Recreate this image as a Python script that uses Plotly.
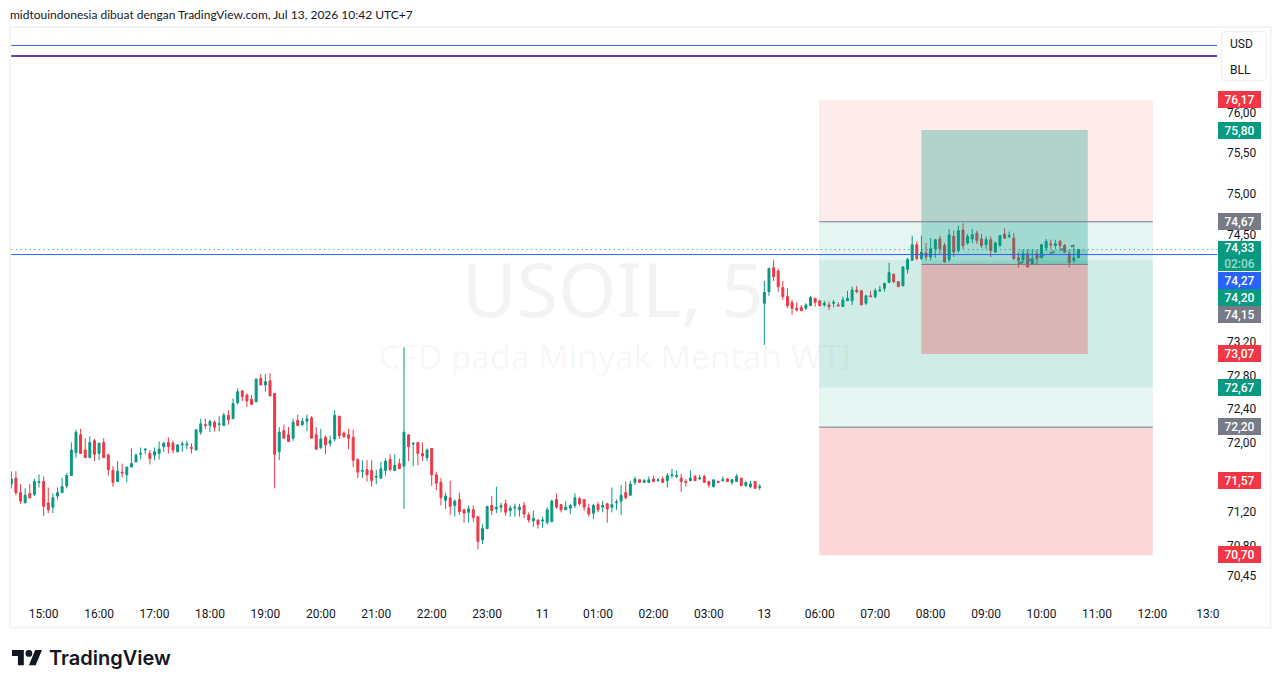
import math
import plotly.graph_objects as go

# USOIL 5-minute candles, oldest first
opens = [
    71.53,71.60,71.43,71.31,71.42,71.41,71.55,71.56,71.31,71.26,
    71.39,71.43,71.51,71.63,71.90,72.11,71.93,71.84,72.04,71.89,
    72.02,71.87,71.69,71.56,71.67,71.64,71.73,71.79,71.88,71.93,
    71.89,71.87,71.89,71.97,72.02,72.01,71.91,71.99,71.99,71.96,
    71.93,72.14,72.23,72.22,72.26,72.23,72.22,72.34,72.30,72.49,
    72.63,72.58,72.53,72.50,72.78,72.70,72.75,72.60,71.91,72.16,
    72.11,72.07,72.28,72.23,72.27,72.31,72.11,71.96,72.08,72.01,
    72.06,72.33,72.13,72.11,72.08,71.82,71.68,71.70,71.69,71.61,
    71.60,71.69,71.82,71.69,71.77,71.74,72.11,72.00,72.02,71.89,
    71.84,71.95,71.64,71.55,71.34,71.37,71.28,71.35,71.23,71.20,
    71.23,71.15,70.88,71.01,71.28,71.24,71.26,71.30,71.22,71.25,
    71.23,71.28,71.17,71.10,71.11,71.10,71.08,71.09,71.35,71.29,
    71.23,71.25,71.28,71.36,71.35,71.25,71.19,71.29,71.26,71.30,
    71.26,71.31,71.33,71.43,71.40,71.55,71.58,71.55,71.55,71.59,
    71.57,71.59,71.57,71.63,71.62,71.60,71.56,71.57,71.62,71.59,
    71.62,71.56,71.50,71.56,71.57,71.59,71.55,71.56,71.60,71.51,
    71.50,71.56,71.49,73.68,73.82,74.11,74.07,73.87,73.76,73.69,
    73.62,73.63,73.62,73.65,73.74,73.71,73.66,73.66,73.68,73.66,
    73.64,73.71,73.71,73.84,73.83,73.68,73.77,73.76,73.83,73.86,
    73.93,74.03,73.94,73.89,74.09,74.20,74.39,74.22,74.29,74.24,
    74.34,74.46,74.38,74.21,74.49,74.32,74.57,74.41,74.46,74.53,
    74.46,74.39,74.45,74.30,74.38,74.52,74.49,74.47,74.23,74.21,
    74.28,74.15,74.28,74.23,74.35,74.40,74.38,74.43,74.38,74.28,74.20,74.23,
]
highs = [
    71.68,71.68,71.53,71.48,71.53,71.59,71.64,71.62,71.49,71.42,
    71.49,71.60,71.66,72.02,72.17,72.18,72.07,72.09,72.06,72.02,
    72.07,71.89,71.74,71.80,71.77,71.73,71.95,71.89,71.96,71.95,
    71.93,71.96,72.03,72.03,72.08,72.04,72.00,72.03,72.04,72.01,
    72.17,72.30,72.30,72.29,72.28,72.33,72.37,72.40,72.54,72.66,
    72.64,72.60,72.58,72.78,72.83,72.83,72.84,72.60,72.20,72.23,
    72.20,72.30,72.35,72.31,72.35,72.33,72.20,72.18,72.10,72.10,
    72.40,72.33,72.15,72.18,72.17,71.83,71.81,71.81,71.81,71.70,
    71.79,71.83,71.88,71.88,71.83,73.15,72.11,72.02,72.02,72.02,
    71.95,71.95,71.67,71.60,71.43,71.57,71.35,71.43,71.24,71.28,
    71.28,71.15,71.06,71.27,71.39,71.50,71.31,71.35,71.28,71.30,
    71.30,71.32,71.20,71.22,71.12,71.15,71.26,71.35,71.42,71.29,
    71.33,71.30,71.42,71.38,71.35,71.30,71.30,71.32,71.33,71.31,
    71.49,71.35,71.52,71.56,71.57,71.62,71.59,71.59,71.62,71.63,
    71.60,71.62,71.66,71.71,71.69,71.65,71.59,71.69,71.64,71.64,
    71.64,71.57,71.58,71.57,71.62,71.60,71.59,71.65,71.60,71.56,
    71.57,71.56,71.53,73.95,74.11,74.20,74.10,73.95,73.86,73.72,
    73.69,73.66,73.68,73.77,73.74,73.71,73.71,73.70,73.72,73.69,
    73.76,73.83,73.88,73.89,73.84,73.78,73.83,73.86,73.89,73.93,
    74.17,74.04,73.95,74.12,74.23,74.50,74.43,74.50,74.41,74.47,
    74.46,74.50,74.41,74.58,74.56,74.62,74.65,74.52,74.58,74.56,
    74.52,74.49,74.49,74.43,74.51,74.59,74.55,74.53,74.29,74.33,
    74.33,74.33,74.33,74.40,74.46,74.45,74.45,74.45,74.40,74.32,74.39,74.34,
]
lows = [
    71.48,71.40,71.30,71.31,71.36,71.39,71.49,71.16,71.19,71.19,
    71.35,71.43,71.48,71.63,71.84,71.89,71.84,71.84,71.80,71.81,
    71.84,71.63,71.50,71.56,71.61,71.55,71.73,71.79,71.82,71.88,
    71.76,71.81,71.82,71.91,71.89,71.89,71.90,71.91,71.94,71.89,
    71.93,72.11,72.18,72.14,72.15,72.15,72.22,72.23,72.30,72.47,
    72.51,72.44,72.46,72.50,72.70,72.62,72.57,71.48,71.81,72.07,
    72.03,72.04,72.22,72.21,72.15,72.07,71.93,71.94,71.88,71.97,
    72.03,72.06,72.07,71.94,71.73,71.60,71.60,71.56,71.50,71.53,
    71.59,71.63,71.68,71.68,71.71,71.24,71.80,71.74,71.75,71.80,
    71.80,71.51,71.46,71.28,71.24,71.17,71.15,71.17,71.08,71.08,
    71.09,70.77,70.83,71.01,71.17,71.19,71.20,71.16,71.15,71.15,
    71.15,71.13,71.08,71.03,71.01,71.02,71.06,71.09,71.24,71.20,
    71.23,71.18,71.25,71.28,71.22,71.15,71.12,71.20,71.20,71.08,
    71.20,71.23,71.17,71.35,71.39,71.52,71.55,71.55,71.55,71.56,
    71.56,71.55,71.49,71.60,71.60,71.44,71.50,71.56,71.57,71.58,
    71.55,71.49,71.49,71.55,71.56,71.56,71.52,71.56,71.51,71.50,
    71.48,71.48,71.46,73.18,73.77,73.95,73.82,73.72,73.62,73.54,
    73.58,73.59,73.60,73.65,73.64,73.65,73.64,73.60,73.63,73.64,
    73.64,73.71,73.66,73.80,73.66,73.66,73.76,73.74,73.82,73.82,
    73.93,73.92,73.88,73.89,74.04,74.20,74.20,74.20,74.20,74.20,
    74.23,74.27,74.17,74.18,74.24,74.29,74.34,74.39,74.41,74.40,
    74.35,74.34,74.24,74.29,74.36,74.46,74.47,74.20,74.11,74.18,
    74.11,74.15,74.15,74.23,74.32,74.34,74.34,74.32,74.29,74.11,74.17,74.23,
]
closes = [
    71.59,71.43,71.33,71.40,71.37,71.56,71.56,71.27,71.23,71.37,
    71.43,71.50,71.63,71.93,72.14,71.89,71.84,72.02,71.88,72.01,
    71.84,71.70,71.55,71.68,71.66,71.73,71.77,71.87,71.89,71.94,
    71.83,71.91,71.94,72.01,71.97,71.93,71.99,72.00,72.00,71.95,
    72.17,72.24,72.22,72.27,72.20,72.24,72.34,72.29,72.48,72.62,
    72.56,72.51,72.47,72.77,72.70,72.74,72.57,71.88,72.14,72.07,
    72.03,72.26,72.22,72.27,72.30,72.07,71.94,72.06,71.99,72.04,
    72.34,72.10,72.09,72.07,71.81,71.67,71.69,71.64,71.57,71.62,
    71.71,71.80,71.70,71.75,71.71,72.14,71.97,72.01,71.89,71.86,
    71.93,71.64,71.54,71.37,71.39,71.27,71.33,71.21,71.19,71.24,
    71.14,70.86,71.01,71.27,71.22,71.26,71.28,71.20,71.25,71.26,
    71.26,71.18,71.11,71.13,71.06,71.11,71.23,71.33,71.26,71.23,
    71.26,71.28,71.37,71.30,71.26,71.18,71.28,71.23,71.28,71.24,
    71.29,71.32,71.40,71.37,71.53,71.59,71.55,71.57,71.58,71.56,
    71.58,71.55,71.63,71.64,71.63,71.56,71.55,71.60,71.57,71.60,
    71.55,71.52,71.58,71.55,71.58,71.56,71.58,71.62,71.51,71.55,
    71.53,71.48,71.50,73.81,74.10,74.00,73.88,73.76,73.65,73.62,
    73.60,73.59,73.66,73.75,73.69,73.65,73.68,73.64,73.69,73.65,
    73.72,73.74,73.84,73.82,73.66,73.77,73.76,73.83,73.84,73.92,
    74.05,73.94,73.88,74.12,74.21,74.39,74.22,74.30,74.24,74.34,
    74.45,74.34,74.18,74.51,74.30,74.56,74.38,74.49,74.51,74.44,
    74.38,74.45,74.32,74.41,74.50,74.47,74.50,74.22,74.20,74.28,
    74.12,74.21,74.22,74.39,74.43,74.39,74.40,74.38,74.30,74.17,74.23,74.33,
]
bar_index = list(range(len(closes)))

# Time axis labels
time_ticks = [7, 19, 31, 43, 55, 67, 79, 91, 103, 115, 127, 139, 151, 163,
              175, 187, 199, 211, 223, 235, 247, 259]
time_labels = ["15:00", "16:00", "17:00", "18:00", "19:00", "20:00", "21:00",
               "22:00", "23:00", "11", "01:00", "02:00", "03:00", "13",
               "06:00", "07:00", "08:00", "09:00", "10:00", "11:00", "12:00", "13:0"]

# Price axis labels
price_ticks = [76.00, 75.50, 75.00, 74.50, 73.20, 72.80, 72.40, 72.00, 71.20, 70.80, 70.45]
price_labels = ["76,00", "75,50", "75,00", "74,50", "73,20", "72,80", "72,40",
                "72,00", "71,20", "70,80", "70,45"]

# Horizontal levels
usd_level = 76.857
bll_level = 76.724
last_price = 74.33
bid_price = 74.27

# Short position tool: stop, entry, target
short_stop, short_entry, short_target = 76.17, 74.67, 72.67
# Long position tool: target, entry, stop
long_target, long_entry, long_stop = 74.20, 72.20, 70.70
# Active position tool: target, entry, stop
active_target, active_entry, active_stop = 75.80, 74.15, 73.07

# Projected path drawn inside the active position
path_bars = [218, 230]
path_prices = [74.16, 74.38]

UP = "#089981"
DOWN = "#F23645"
GREY = "#787B86"
BLUE = "#2962FF"
INK = "#131722"
FONT = "Roboto"

# Plot area in page pixels
W, H = 1281, 688
LEFT, RIGHT, TOP, BOTTOM = 11, 1220, 28, 600


def paper_x(px):
    return (px - LEFT) / (RIGHT - LEFT)


def paper_y(py):
    return 1 - (py - TOP) / (BOTTOM - TOP)


fig = go.Figure()

fig.add_trace(go.Candlestick(
    x=bar_index, open=opens, high=highs, low=lows, close=closes,
    increasing=dict(line=dict(color=UP, width=1), fillcolor=UP),
    decreasing=dict(line=dict(color=DOWN, width=1), fillcolor=DOWN),
    whiskerwidth=0, showlegend=False, hoverinfo="skip",
))
fig.add_trace(go.Scatter(
    x=path_bars, y=path_prices, mode="lines",
    line=dict(color=GREY, width=2, dash="5px,6px"),
    showlegend=False, hoverinfo="skip",
))


def zone(x0, x1, y0, y1, color):
    return dict(type="rect", xref="x", yref="y", x0=x0, x1=x1, y0=y0, y1=y1,
                fillcolor=color, line_width=0, layer="above")


def level(x0, x1, y, color, width=1, dash="solid"):
    return dict(type="line", xref="x", yref="y", x0=x0, x1=x1, y0=y, y1=y,
                line=dict(color=color, width=width, dash=dash), layer="above")


tool_left, tool_right = 174.85, 247.1
active_left, active_right = 197, 233
active_now = 217.7
line_end = 261

shapes = [
    # Short position
    zone(tool_left, tool_right, short_entry, short_stop, "rgba(242,54,69,0.1)"),
    zone(tool_left, tool_right, short_target, short_entry, "rgba(8,153,129,0.1)"),
    # Long position
    zone(tool_left, tool_right, long_entry, long_target, "rgba(8,153,129,0.1)"),
    zone(tool_left, tool_right, long_stop, long_entry, "rgba(242,54,69,0.2)"),
    # Active position
    zone(active_left, active_right, active_entry, active_target, "rgba(8,153,129,0.3)"),
    zone(active_left, active_right, active_stop, active_entry, "rgba(242,54,69,0.3)"),
    zone(active_now, active_right, active_entry, last_price, "rgba(8,153,129,0.2)"),
    level(tool_left, tool_right, short_entry, GREY),
    level(tool_left, tool_right, long_entry, GREY),
    level(active_left, active_right, active_entry, GREY),
    # Named levels and live prices
    level(0, line_end, usd_level, "#3D5FD6"),
    level(0, line_end, bll_level, "#673AB7", width=2),
    level(0, line_end, last_price, UP, dash="1px,3.6px"),
    level(0, line_end, bid_price, BLUE),
]

# Chart frame
shapes.append(dict(
    type="rect", xref="paper", yref="paper",
    x0=paper_x(10), x1=paper_x(1270.5), y0=paper_y(27), y1=paper_y(627.5),
    line=dict(color="#F2F3F5", width=2), layer="above",
))

# Legend box with rounded corners
bx0, bx1, by0, by1, br = paper_x(1221.5), paper_x(1266.5), paper_y(31.5), paper_y(80.5), 4
rx, ry = br / (RIGHT - LEFT), br / (BOTTOM - TOP)
shapes.append(dict(
    type="path", xref="paper", yref="paper", layer="above",
    path=(f"M{bx0+rx},{by0} L{bx1-rx},{by0} Q{bx1},{by0} {bx1},{by0-ry} "
          f"L{bx1},{by1+ry} Q{bx1},{by1} {bx1-rx},{by1} "
          f"L{bx0+rx},{by1} Q{bx0},{by1} {bx0},{by1+ry} "
          f"L{bx0},{by0-ry} Q{bx0},{by0} {bx0+rx},{by0} Z"),
    fillcolor="white", line=dict(color="#F0F1F3", width=1.5),
))


# Logo mark
def mark_x(v):
    return paper_x(12 + 0.845 * v)


def mark_y(v):
    return paper_y(650 + 0.845 * (v - 4))


mark_polys = [
    [(14, 22), (7, 22), (7, 11), (0, 11), (0, 4), (14, 4)],
    [(28, 22), (20, 22), (27.5, 4), (35.5, 4)],
]
for poly in mark_polys:
    pts = " L".join(f"{mark_x(a)},{mark_y(b)}" for a, b in poly)
    shapes.append(dict(type="path", xref="paper", yref="paper", path=f"M{pts} Z",
                       fillcolor=INK, line_width=0, layer="above"))
shapes.append(dict(type="circle", xref="paper", yref="paper",
                   x0=mark_x(16), x1=mark_x(24), y0=mark_y(12), y1=mark_y(4),
                   fillcolor=INK, line_width=0, layer="above"))

annotations = []


def text_at(px, py, text, size=12, color=INK, anchor="left", family=FONT, weight=None):
    f = dict(family=family, size=size, color=color)
    if weight:
        f["weight"] = weight
    annotations.append(dict(
        xref="paper", yref="paper", x=paper_x(px), y=paper_y(py), text=text,
        showarrow=False, xanchor=anchor, yanchor="middle", font=f,
        borderpad=0, borderwidth=0,
    ))


def price_tag(py, text, color, height=17):
    annotations.append(dict(
        xref="paper", yref="paper", x=paper_x(1239.5), y=paper_y(py), text=text,
        showarrow=False, xanchor="center", yanchor="middle", width=43, height=height,
        bgcolor=color, borderpad=0, borderwidth=0,
        font=dict(family=FONT, size=12, color="white", weight=500),
    ))


# Header and watermark
text_at(10, 14, "midtouindonesia dibuat dengan TradingView.com, Jul 13, 2026 10:42 UTC+7", size=12, family="Lato")
text_at(613, 288, "USOIL, 5", size=75, color="rgba(19,23,34,0.05)", anchor="center", family="Noto Sans")
text_at(615, 356, "CFD pada Minyak Mentah WTI", size=33.5, color="rgba(19,23,34,0.05)", anchor="center", family="Noto Sans")

# Legend entries
text_at(1230, 44, "USD", size=12)
text_at(1230, 70, "BLL", size=12)

# Price tags stacked along the axis
price_tag(100, "76,17", DOWN)
price_tag(130, "75,80", UP)
price_tag(221, "74,67", GREY)
price_tag(256, '74,33<br><span style="color:#9ADBCF">02:06</span>', UP, height=30)
price_tag(280, "74,27", BLUE)
price_tag(297.5, "74,20", UP)
price_tag(314.5, "74,15", GREY)
price_tag(353, "73,07", DOWN)
price_tag(387.5, "72,67", UP)
price_tag(426.5, "72,20", GREY)
price_tag(480.5, "71,57", DOWN)
price_tag(554.5, "70,70", DOWN)

# Brand name
text_at(49, 658, "TradingView", size=20, family="Inter", weight=600)

fig.update_layout(
    width=W, height=H, autosize=False,
    margin=dict(l=LEFT, r=W - RIGHT, t=TOP, b=H - BOTTOM, pad=0),
    paper_bgcolor="white", plot_bgcolor="white",
    showlegend=False, boxgap=0.4,
    font=dict(family=FONT, size=12, color=INK),
    shapes=shapes, annotations=annotations,
    xaxis=dict(
        range=[-0.065, 261.63], rangeslider=dict(visible=False),
        tickmode="array", tickvals=time_ticks, ticktext=time_labels,
        showgrid=False, zeroline=False, showline=False, ticks="",
        ticklabelstandoff=5, tickangle=0, tickfont=dict(family=FONT, size=12, color=INK),
    ),
    yaxis=dict(
        type="log", side="right",
        range=[math.log10(70.185), math.log10(77.0772)],
        tickmode="array", tickvals=price_ticks, ticktext=price_labels,
        showgrid=False, zeroline=False, showline=False, ticks="",
        ticklabelstandoff=6, ticklabelshift=-1, tickfont=dict(family=FONT, size=12, color=INK),
    ),
)

fig.write_html("out.html")
